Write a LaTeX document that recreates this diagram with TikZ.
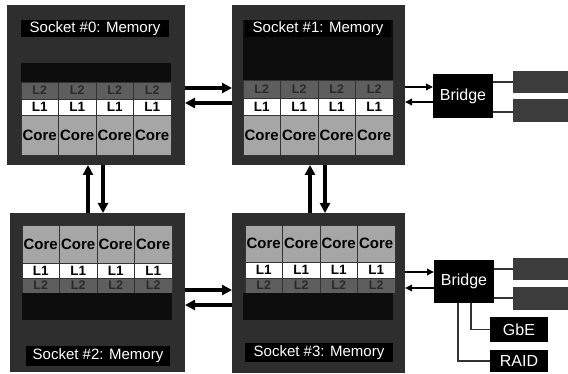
\documentclass[tikz,border=0pt]{standalone}
\usepackage{fontspec}
\setmainfont{Liberation Sans}
\usetikzlibrary{arrows.meta}
\definecolor{sockgray}{HTML}{2E2E2E}
\definecolor{memgray}{HTML}{3C3C3C}
\definecolor{ltwogray}{HTML}{5E5E5E}
\definecolor{ltwotext}{HTML}{2A2A2A}
\definecolor{coregray}{HTML}{A6A6A6}
\tikzset{
  box/.style={inner sep=0pt, outer sep=0pt, anchor=north west},
  sockbox/.style={box, fill=sockgray},
  titlebox/.style={box, fill=black, text=white, font=\fontsize{15}{17}\selectfont},
  band/.style={box, fill=black!95},
  ltwo/.style={box, fill=ltwogray, draw=black!80, line width=0.6pt, text=ltwotext, font=\bfseries\fontsize{12.5}{14}\selectfont, minimum width=37.5pt},
  lone/.style={box, fill=white, draw=black!80, line width=0.6pt, text=black, font=\bfseries\fontsize{13.5}{15}\selectfont, minimum width=37.5pt},
  corebox/.style={box, fill=coregray, draw=black!80, line width=0.6pt, text=black, font=\bfseries\fontsize{15}{17}\selectfont, minimum width=37.5pt},
  blk/.style={box, fill=black, text=white, font=\fontsize{16}{18}\selectfont},
  membox/.style={box, fill=memgray},
  bus/.style={line width=3.5pt, -{Triangle[length=10pt,width=10pt]}},
  link/.style={line width=2pt, -{Triangle[length=7pt,width=6.5pt]}},
  wire/.style={line width=1.2pt, black!80},
}
\begin{document}
\begin{tikzpicture}[x=1pt,y=-1pt]
\useasboundingbox (0,0) rectangle (568,374);
\fill[white] (0,0) rectangle (568,374);

% ---------- Socket 0 ----------
\node[sockbox, minimum width=178pt, minimum height=160pt] (s0) at (7,5) {};
\node[titlebox, minimum width=148pt, minimum height=17pt] (t0) at (21,20) {Socket \#0: Memory};
\node[band, minimum width=150pt, minimum height=19pt] (b0) at (21,63) {};
\foreach \i in {0,...,3}{
  \node[ltwo, minimum height=17pt] (s0ltwo\i) at ({21+37.5*\i},82) {L2};
  \node[lone, minimum height=16pt] (s0lone\i) at ({21+37.5*\i},99) {L1};
  \node[corebox, minimum height=40pt] (s0core\i) at ({21+37.5*\i},115) {Core};
}

% ---------- Socket 1 ----------
\node[sockbox, minimum width=173pt, minimum height=160pt] (s1) at (232,5) {};
\node[band, minimum width=150pt, minimum height=60pt] (b1) at (243,20) {};
\node[titlebox, minimum width=146pt, minimum height=17pt] (t1) at (245,20) {Socket \#1: Memory};
\foreach \i in {0,...,3}{
  \node[ltwo, minimum height=18pt] (s1ltwo\i) at ({243+37.5*\i},80) {L2};
  \node[lone, minimum height=17pt] (s1lone\i) at ({243+37.5*\i},98) {L1};
  \node[corebox, minimum height=40pt] (s1core\i) at ({243+37.5*\i},115) {Core};
}

% ---------- Socket 2 ----------
\node[sockbox, minimum width=175pt, minimum height=159pt] (s2) at (10,213) {};
\foreach \i in {0,...,3}{
  \node[corebox, minimum height=38pt] (s2core\i) at ({22+37.5*\i},225) {Core};
  \node[lone, minimum height=15pt] (s2lone\i) at ({22+37.5*\i},263) {L1};
  \node[ltwo, minimum height=15pt] (s2ltwo\i) at ({22+37.5*\i},278) {L2};
}
\node[band, minimum width=150pt, minimum height=27pt] (b2) at (22,293) {};
\node[titlebox, minimum width=144pt, minimum height=20pt] (t2) at (26,346) {Socket \#2: Memory};

% ---------- Socket 3 ----------
\node[sockbox, minimum width=173pt, minimum height=160pt] (s3) at (232,213) {};
\foreach \i in {0,...,3}{
  \node[corebox, minimum height=37pt] (s3core\i) at ({245+37.5*\i},225) {Core};
  \node[lone, minimum height=16pt] (s3lone\i) at ({245+37.5*\i},262) {L1};
  \node[ltwo, minimum height=15pt] (s3ltwo\i) at ({245+37.5*\i},278) {L2};
}
\node[band, minimum width=150pt, minimum height=27pt] (b3) at (243,293) {};
\node[titlebox, minimum width=148pt, minimum height=19pt] (t3) at (245,343) {Socket \#3: Memory};

% ---------- socket interconnect ----------
\draw[bus] (s0.east |- 0,88) -- (s1.west |- 0,88);
\draw[bus] (s1.west |- 0,103) -- (s0.east |- 0,103);
\draw[bus] (s2.east |- 0,290) -- (s3.west |- 0,290);
\draw[bus] (s3.west |- 0,305) -- (s2.east |- 0,305);
\draw[bus] (s2.north -| 88,0) -- (s0.south -| 88,0);
\draw[bus] (s0.south -| 103,0) -- (s2.north -| 103,0);
\draw[bus] (s3.north -| 310,0) -- (s1.south -| 310,0);
\draw[bus] (s1.south -| 325,0) -- (s3.north -| 325,0);

% ---------- Bridge 1 ----------
\node[blk, minimum width=60pt, minimum height=44pt] (br1) at (433,74) {Bridge};
\node[membox, minimum width=56pt, minimum height=22pt] (m1) at (513,71) {};
\node[membox, minimum width=56pt, minimum height=23pt] (m2) at (513,99) {};
\draw[link] (s1.east |- 0,87) -- (br1.west |- 0,87);
\draw[link] (br1.west |- 0,102) -- (s1.east |- 0,102);
\draw[wire] (br1.east |- 0,82) -- (m1.west |- 0,82);
\draw[wire] (br1.east |- 0,112) -- (m2.west |- 0,112);

% ---------- Bridge 2 ----------
\node[blk, minimum width=60pt, minimum height=43pt] (br2) at (434,260) {Bridge};
\node[membox, minimum width=56pt, minimum height=22pt] (m3) at (513,258) {};
\node[membox, minimum width=56pt, minimum height=23pt] (m4) at (513,287) {};
\node[blk, minimum width=58pt, minimum height=25pt] (gbe) at (490,317) {GbE};
\node[blk, minimum width=58pt, minimum height=22pt] (raid) at (490,350) {RAID};
\draw[link] (s3.east |- 0,272) -- (br2.west |- 0,272);
\draw[link] (br2.west |- 0,288) -- (s3.east |- 0,288);
\draw[wire] (br2.east |- 0,269) -- (m3.west |- 0,269);
\draw[wire] (br2.east |- 0,298) -- (m4.west |- 0,298);
\draw[wire] (br2.south -| 471,0) |- (gbe.west);
\draw[wire] (br2.south -| 458,0) |- (raid.west);
\end{tikzpicture}
\end{document}
